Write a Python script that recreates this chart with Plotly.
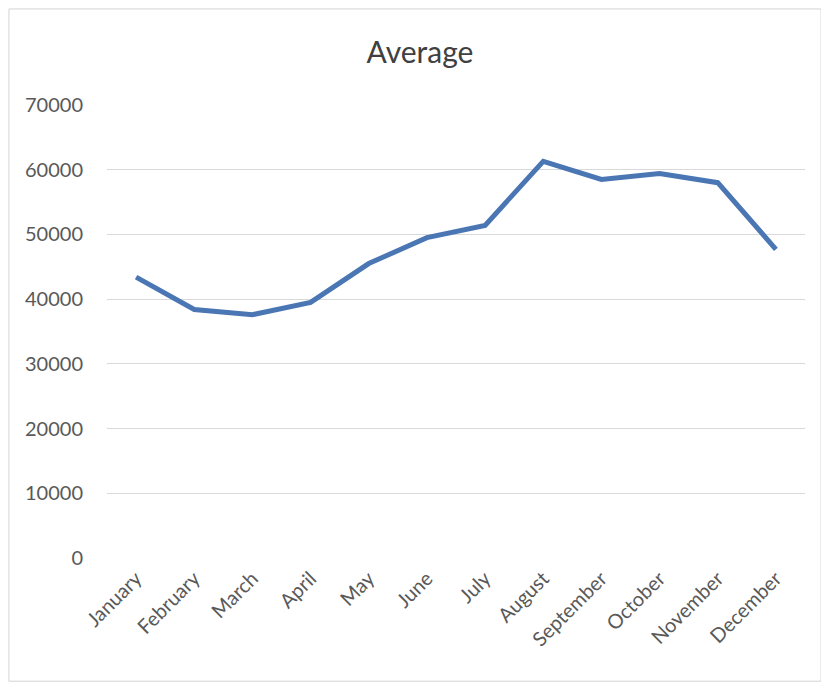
import plotly.graph_objects as go

months = ["January", "February", "March", "April", "May", "June", "July",
          "August", "September", "October", "November", "December"]
average = [43400, 38400, 37600, 39500, 45500, 49500, 51400,
           61300, 58500, 59400, 58000, 47700]
y_ticks = [0, 10000, 20000, 30000, 40000, 50000, 60000, 70000]
y_tick_text = [str(v) for v in y_ticks]

W, H = 821, 679  # page body adds an 8px offset

fig = go.Figure()
fig.add_trace(go.Scatter(
    x=months, y=average, mode="lines",
    line=dict(color="#4a76b4", width=5),
    name="Average", showlegend=False,
))

fig.update_layout(
    width=W, height=H,
    paper_bgcolor="white", plot_bgcolor="white",
    margin=dict(l=99, r=24, t=97, b=129, autoexpand=False),
    title=dict(text="Average", x=(420 - 8) / W, xanchor="center", xref="container",
               yref="container", y=1 - 44 / H, yanchor="middle",
               font=dict(family="Lato, Open Sans, sans-serif", size=30, color="#404040")),
    font=dict(family="Lato, Open Sans, sans-serif", size=20, color="#595959"),
    xaxis=dict(type="category", range=[-0.5, 11.5], tickangle=-45, showgrid=False,
               showline=False, ticks="", zeroline=False, automargin=False,
               ticklabelstandoff=4, tickfont=dict(size=20, color="#595959")),
    yaxis=dict(range=[0, 70000], tickvals=y_ticks, ticktext=y_tick_text,
               showgrid=True, gridcolor="#d9d9d9", gridwidth=1, zeroline=False,
               showline=False, ticks="", automargin=False, ticklabelstandoff=23,
               tickfont=dict(size=20, color="#595959")),
    shapes=[dict(type="rect", xref="paper", yref="paper", x0=-0.1405, x1=1.023,
                 y0=-0.272, y1=1.212, line=dict(color="#d4d4d4", width=1))],
)

fig.write_html("out.html")
